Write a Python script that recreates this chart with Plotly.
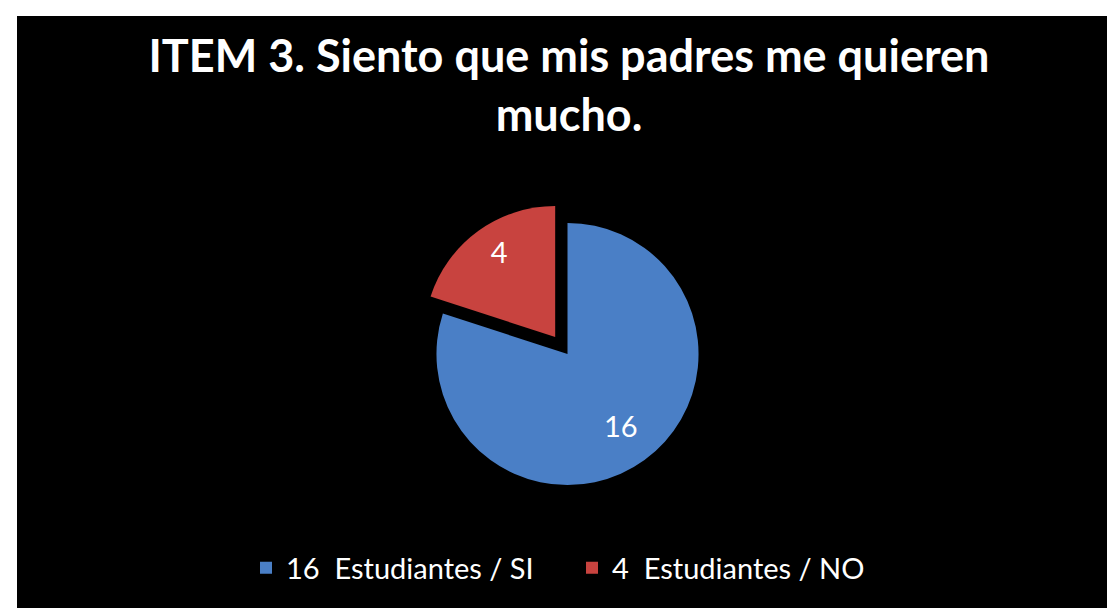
import plotly.graph_objects as go

labels = ["16\u00a0 Estudiantes / SI", "4\u00a0 Estudiantes / NO"]
values = [16, 4]
colors = ["#4A7FC6", "#C8433F"]
pulls = [0, 0.16]
title_text = "ITEM 3. Siento que mis padres me quieren<br>mucho."

W, H = 1115, 608
NB = "\u00a0"

fig = go.Figure(go.Pie(
    labels=labels,
    values=values,
    sort=False,
    direction="clockwise",
    rotation=0,
    pull=pulls,
    texttemplate=[NB + "<br>" + NB * 4 + "%{value}",
                  "%{value}" + NB * 2 + "<br>" + NB],
    textposition="inside",
    insidetextorientation="horizontal",
    textfont=dict(family="Lato", size=29, color="white"),
    marker=dict(colors=colors, line=dict(width=0)),
    domain=dict(x=[407.5 / W, 711.5 / W], y=[110 / H, 414 / H]),
    hoverinfo="label+value",
))

fig.update_layout(
    width=W, height=H,
    margin=dict(l=0, r=0, t=0, b=0),
    paper_bgcolor="white",
    shapes=[dict(type="rect", xref="paper", yref="paper",
                 x0=9 / W, x1=1113 / W, y0=0, y1=1 - 8 / H,
                 fillcolor="black", line=dict(width=0), layer="below")],
    title=dict(text=title_text, x=561 / W, xanchor="center",
               y=1 - 64 / H, yanchor="top",
               font=dict(family="Lato", size=45, color="white", weight="bold")),
    legend=dict(orientation="h", x=564 / W, xanchor="center",
                y=48 / H, yanchor="middle",
                entrywidth=281, entrywidthmode="pixels",
                font=dict(family="Lato", size=29, color="white"),
                bgcolor="rgba(0,0,0,0)", itemclick=False),
    showlegend=True,
)

fig.write_html("out.html")
